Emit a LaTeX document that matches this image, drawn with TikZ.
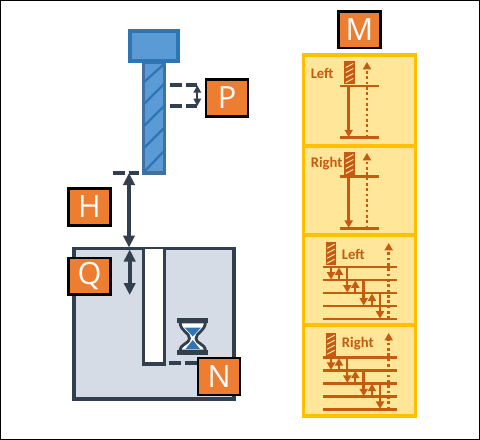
\documentclass[tikz,border=0pt]{standalone}
\usepackage{fontspec}
\setmainfont{Carlito}
\newfontfamily\boxfont{Open Sans}
\usepackage{xcolor}
\usetikzlibrary{arrows.meta}
\definecolor{slate}{HTML}{323F4F}
\definecolor{steel}{HTML}{41719C}
\definecolor{toolblue}{HTML}{5B9BD5}
\definecolor{headblue}{HTML}{2E75B6}
\definecolor{sandblue}{HTML}{2E75B6}
\definecolor{tagorange}{HTML}{ED7D31}
\definecolor{rust}{HTML}{C55A11}
\definecolor{panelyellow}{HTML}{FFE699}
\definecolor{frameyellow}{HTML}{FFC000}
\definecolor{blockgray}{HTML}{D6DCE5}
\newcommand{\MiniTool}[2]{
  \draw[rust, fill=rust, line width=0.75pt] (#1,#2) rectangle ++(9.5,22);
  \draw[panelyellow!70!white, line width=0.7pt] (#1+1,#2+6) -- ++(7.5,-4) (#1+1,#2+11) -- ++(7.5,-4) (#1+1,#2+16) -- ++(7.5,-4) (#1+1,#2+21) -- ++(7.5,-4);
}

\begin{document}
\begin{tikzpicture}[
    x=0.75pt, y=-0.75pt,
    tagbox/.style={draw=black, line width=1.8pt, fill=tagorange, text=white, minimum width=31.5pt, minimum height=27.5pt, inner sep=0pt, font=\boxfont\fontsize{23}{23}\selectfont},
    guide/.style={draw=slate, line width=2.8pt, dash pattern=on 9pt off 3pt},
    bigarrow/.style={draw=slate, line width=3pt, {Triangle[length=9pt, width=8.5pt]}-{Triangle[length=9pt, width=8.5pt]}},
    smallarrow/.style={draw=slate, line width=1.8pt, {Triangle[length=5.5pt, width=5.5pt]}-{Triangle[length=5.5pt, width=5.5pt]}},
    level/.style={draw=rust, line width=2pt},
    feed/.style={draw=rust, line width=1.8pt, -{Triangle[length=5.5pt, width=6pt]}},
    retract/.style={draw=rust, line width=2pt, dash pattern=on 2pt off 2pt, -{Triangle[length=5.5pt, width=6pt]}},
    sidetext/.style={text=rust, font=\bfseries\fontsize{11}{11}\selectfont, inner sep=0pt}
]
\useasboundingbox (0,0) rectangle (480,440);
\draw[black, line width=0.8pt] (0.5,0.5) rectangle (479.5,439.5);

% block with the hole
\draw[slate, fill=blockgray, line width=2.8pt] (74,248.5) rectangle (234,399);
\draw[slate, fill=white, line width=2.6pt] (143.5,248.5) -- (143.5,364) -- (164.5,364) -- (164.5,248.5);

% drill
\draw[steel, fill=toolblue, line width=2.6pt] (143.5,62) rectangle (164.5,173);
\draw[headblue, line width=1.7pt] (143,83) -- (164,64);
\draw[headblue, line width=1.7pt] (143,105) -- (164,84);
\draw[headblue, line width=1.7pt] (143,127) -- (164,106);
\draw[headblue, line width=1.7pt] (143,149) -- (164,128);
\draw[headblue, line width=1.7pt] (143,173) -- (164,151);
\draw[headblue, fill=toolblue, line width=2.6pt] (130,31) rectangle (178,61);

% dimension marks
\coordinate (peckA) at (197.3,85.3);
\coordinate (peckB) at (197.3,106);
\coordinate (tipL) at (113,172.7);
\coordinate (tipR) at (139,172.7);
\coordinate (rapidA) at (129,173);
\coordinate (rapidB) at (129,247.5);
\coordinate (depthA) at (129.7,249.5);
\coordinate (depthB) at (129.7,295);
\coordinate (holeA) at (169,363.3);
\coordinate (holeB) at (197,363.3);
\draw[guide] (170,85.3) -- (peckA);
\draw[guide] (170,106) -- (peckB);
\draw[smallarrow] (peckA) -- (peckB);
\draw[guide] (tipL) -- (tipR);
\draw[bigarrow] (rapidA) -- (rapidB);
\draw[bigarrow] (depthA) -- (depthB);
\draw[guide] (holeA) -- (holeB);

% hourglass
\draw[slate, fill=white, line width=2.1pt] (180,322) .. controls (180.5,332) and (189.5,332) .. (189.5,338.5) .. controls (189.5,344) and (180.5,343) .. (180,351) -- (205.5,351) .. controls (205,343) and (196,344) .. (196,338.5) .. controls (196,332) and (205,332) .. (205.5,322) -- cycle;
\fill[sandblue] (184.5,327.5) -- (201,327.5) -- (192.8,336.5) -- cycle;
\fill[sandblue] (192.8,340) -- (200,349) -- (185.5,349) -- cycle;
\fill[slate] (177.3,318) rectangle (208.5,323.3);
\fill[slate] (177.3,350) rectangle (208.5,355.3);

% tags
\node[tagbox] (tagP) at (227,98) {P};
\node[tagbox] (tagH) at (89.5,207) {H};
\node[tagbox] (tagQ) at (89.5,276.3) {Q};
\node[tagbox] (tagN) at (219.3,376.5) {N};
\node[tagbox] (tagM) at (359.5,29.7) {M};

% cycle panels
\draw[frameyellow, fill=panelyellow, line width=2.8pt] (303.5,55) rectangle (415.5,416);
\draw[frameyellow, line width=2.8pt] (303.5,145.7) -- (415.5,145.7);
\draw[frameyellow, line width=2.8pt] (303.5,235) -- (415.5,235);
\draw[frameyellow, line width=2.8pt] (303.5,325) -- (415.5,325);

% panel 1
\node[sidetext, anchor=west] (leftA) at (310.5,73.5) {Left};
\MiniTool{344.8}{61.5}
\draw[level] (339.7,86) -- (379,86);
\draw[level] (339.7,137.7) -- (379,137.7);
\draw[feed] (348.7,86) -- (348.7,137.2);
\draw[retract] (367,137.7) -- (367,62);

% panel 2
\node[sidetext, anchor=west] (rightA) at (310.5,164) {Right};
\MiniTool{344.8}{152.5}
\draw[level] (339.7,176.7) -- (379,176.7);
\draw[level] (339.7,228.3) -- (379,228.3);
\draw[feed] (348.7,176.7) -- (348.7,227.8);
\draw[retract] (367,228.3) -- (367,153);

% panel 3
\node[sidetext, anchor=west] (leftB) at (341.7,254) {Left};
\MiniTool{326.2}{242.2}
\draw[level] (323,267) -- (397.3,267);
\draw[level] (323,280) -- (397.3,280);
\draw[level] (323,293) -- (397.3,293);
\draw[level] (323,306) -- (397.3,306);
\draw[level] (323,319) -- (397.3,319);
\draw[feed] (331,267) -- (331,279.5);
\draw[feed] (339,280) -- (339,267.5);
\draw[feed] (347.3,267) -- (347.3,292.5);
\draw[feed] (355.3,293) -- (355.3,280.5);
\draw[feed] (363.7,280) -- (363.7,305.5);
\draw[feed] (372,306) -- (372,293.5);
\draw[feed] (380,293) -- (380,318.5);
\draw[retract] (388.7,319) -- (388.7,243);

% panel 4
\node[sidetext, anchor=west] (rightB) at (341.7,344) {Right};
\MiniTool{326.2}{333.2}
\draw[level] (323,357.7) -- (397.3,357.7);
\draw[level] (323,370.3) -- (397.3,370.3);
\draw[level] (323,383.3) -- (397.3,383.3);
\draw[level] (323,396.7) -- (397.3,396.7);
\draw[level] (323,409.3) -- (397.3,409.3);
\draw[feed] (331,357.7) -- (331,369.8);
\draw[feed] (339,370.3) -- (339,358.2);
\draw[feed] (347.3,357.7) -- (347.3,382.8);
\draw[feed] (355.3,383.3) -- (355.3,370.8);
\draw[feed] (363.7,370.3) -- (363.7,396.2);
\draw[feed] (372,396.7) -- (372,383.8);
\draw[feed] (380,383.3) -- (380,408.8);
\draw[retract] (388.7,409.3) -- (388.7,333);

\end{tikzpicture}
\end{document}
